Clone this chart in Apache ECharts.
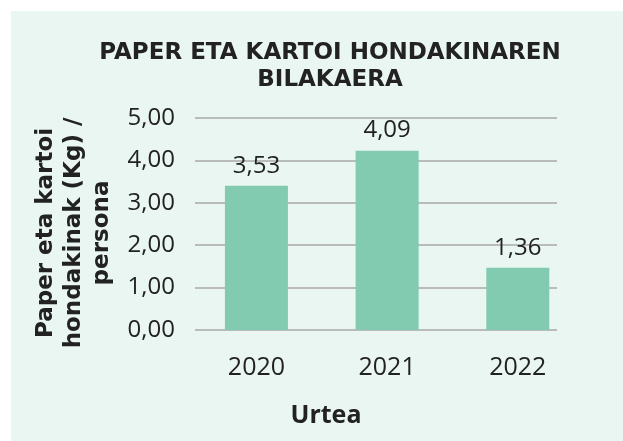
<!DOCTYPE html>
<html>
<head>
<meta charset="utf-8" />
<title>Paper eta kartoi</title>
<script src="https://cdn.jsdelivr.net/npm/echarts@6/dist/echarts.min.js"></script>
<style>
	html, body { margin: 0; padding: 0; background: #ffffff; }
	#chart { width: 623px; height: 441px; }
</style>
</head>
<body>
<div id="chart"></div>
<script>
	// data
	var years = [2020, 2021, 2022];
	var barValues = [3.40, 4.23, 1.47];
	var labelTexts = ['3,53', '4,09', '1,36'];
	var yTicks = [0, 1, 2, 3, 4, 5];

	var font = 'Open Sans';
	var boldFont = 'DejaVu Sans';
	var myChart = echarts.init(document.getElementById('chart'));

	var seriesData = [];
	for (var i = 0; i < years.length; i++) {
		seriesData.push({ value: [years[i], barValues[i]], labelText: labelTexts[i] });
	}

	var option = {
		backgroundColor: '#ffffff',
		animation: false,
		graphic: [{
			type: 'rect',
			z: -10,
			shape: { x: 11, y: 11, width: 612, height: 430 },
			style: { fill: '#eaf6f2' }
		}],
		title: [{
			text: 'PAPER ETA KARTOI HONDAKINAREN\nBILAKAERA',
			left: 325,
			top: 35,
			textAlign: 'center',
			textStyle: { fontFamily: boldFont, fontSize: 23, fontWeight: 'bold', color: '#222', lineHeight: 27 }
		}, {
			text: 'Urtea',
			left: 321,
			top: 398,
			textAlign: 'center',
			textStyle: { fontFamily: font, fontSize: 25, fontWeight: 'bold', color: '#222' }
		}],
		grid: { left: 195, right: 66, top: 118, bottom: 111 },
		xAxis: {
			type: 'value',
			min: 2019.53,
			max: 2022.30,
			splitLine: { show: false },
			axisLine: { show: false },
			axisTick: { show: false },
			axisLabel: {
				customValues: years,
				formatter: function (v) { return String(v); },
				fontFamily: font, fontSize: 25, color: '#222', margin: 25
			}
		},
		yAxis: {
			type: 'value',
			min: 0,
			max: 5,
			interval: 1,
			name: 'Paper eta kartoi\nhondakinak (Kg) /\npersona',
			nameLocation: 'middle',
			nameGap: 79,
			nameRotate: 90,
			nameTextStyle: { fontFamily: boldFont, fontSize: 23, fontWeight: 'bold', color: '#222', lineHeight: 28, padding: [0, 18, 0, 0] },
			axisLine: { show: false },
			axisTick: { show: false },
			splitLine: { lineStyle: { color: '#a8a8a8', width: 1.5 } },
			axisLabel: {
				fontFamily: font, fontSize: 24, color: '#222', margin: 20,
				formatter: function (v) { return yTicks.indexOf(v) >= 0 ? v.toFixed(2).replace('.', ',') : ''; }
			}
		},
		series: [{
			type: 'bar',
			barWidth: 63,
			data: seriesData,
			itemStyle: { color: '#82cbb0' },
			label: {
				show: true,
				position: 'top',
				distance: 8,
				fontFamily: font, fontSize: 24, color: '#222',
				formatter: function (p) { return p.data.labelText; }
			}
		}]
	};
	myChart.setOption(option);
</script>
</body>
</html>
